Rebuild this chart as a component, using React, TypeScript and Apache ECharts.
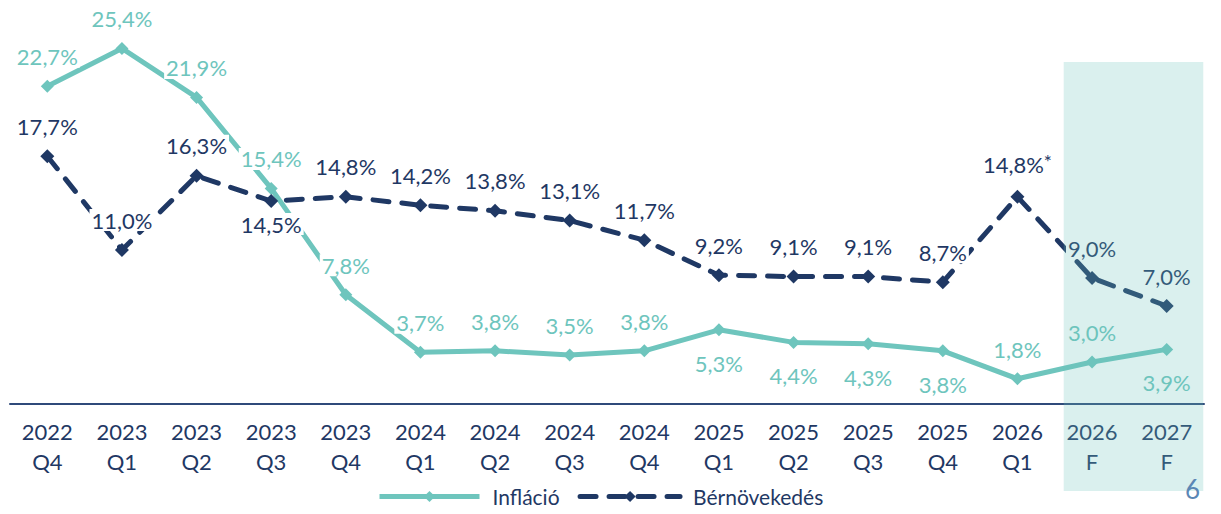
import React, { useEffect, useRef } from "react";
import * as echarts from "echarts";

const categories = [
  "2022\nQ4", "2023\nQ1", "2023\nQ2", "2023\nQ3", "2023\nQ4",
  "2024\nQ1", "2024\nQ2", "2024\nQ3", "2024\nQ4",
  "2025\nQ1", "2025\nQ2", "2025\nQ3", "2025\nQ4",
  "2026\nQ1", "2026\nF", "2027\nF",
];
const inflation = [22.7, 25.4, 21.9, 15.4, 7.8, 3.7, 3.8, 3.5, 3.8, 5.3, 4.4, 4.3, 3.8, 1.8, 3.0, 3.9];
const wageGrowth = [17.7, 11.0, 16.3, 14.5, 14.8, 14.2, 13.8, 13.1, 11.7, 9.2, 9.1, 9.1, 8.7, 14.8, 9.0, 7.0];
const inflationLabelBelow = [9, 10, 11, 12, 15];
const wageLabelBelow = [3];
const wageFootnote = [13];
const forecastStart = "2026\nF";
const forecastEnd = "2027\nF";

const TEAL = "#6EC5BD";
const NAVY = "#1F3864";
const FONT = "Lato, 'Open Sans', sans-serif";
const FS = 22;

const fmt = (v: number) => v.toFixed(1).replace(".", ",") + "%";

export default function App() {
  const ref = useRef<HTMLDivElement>(null);
  useEffect(() => {
    if (!ref.current) return;
    const chart = echarts.init(ref.current, undefined, { renderer: "svg" });

    const inflData = inflation.map((v, i) => {
      const below = inflationLabelBelow.includes(i);
      return {
        value: v,
        label: { position: below ? "bottom" : "top", distance: below ? 16 : 12 },
      };
    });
    const wageData = wageGrowth.map((v, i) => {
      const below = wageLabelBelow.includes(i);
      const foot = wageFootnote.includes(i);
      return {
        value: v,
        label: {
          position: below ? "bottom" : "top",
          distance: below ? 5 : 12,
          formatter: foot ? `{v|${fmt(v)}}{s|*}` : fmt(v),
        },
      };
    });

    chart.setOption({
      animation: false,
      textStyle: { fontFamily: FONT },
      grid: { left: 10, right: 17, top: 12, bottom: 110, containLabel: false },
      xAxis: {
        type: "category",
        data: categories,
        boundaryGap: true,
        axisLine: { show: true, lineStyle: { color: "#2F4A7A", width: 2 } },
        axisTick: { show: false },
        axisLabel: {
          interval: 0,
          color: NAVY,
          fontSize: FS,
          lineHeight: 30,
          margin: 12,
          fontFamily: FONT,
        },
      },
      yAxis: {
        type: "value",
        min: 0,
        max: 28,
        show: false,
        splitLine: { show: false },
      },
      legend: {
        left: 372,
        bottom: 2,
        itemWidth: 100,
        itemHeight: 14,
        itemGap: 18,
        lineStyle: { width: 5 },
        textStyle: { color: NAVY, fontSize: 21, fontFamily: FONT, padding: [0, 0, 0, 8] },
        data: ["Infláció", "Bérnövekedés"],
      },
      series: [
        {
          name: "Infláció",
          type: "line",
          data: inflData,
          symbol: "diamond",
          symbolSize: 13,
          itemStyle: { color: TEAL },
          lineStyle: { color: TEAL, width: 5 },
          z: 2,
          label: {
            show: true,
            color: TEAL,
            fontSize: FS,
            fontFamily: FONT,
            backgroundColor: "#ffffff",
            padding: [0, 2],
            formatter: (p: any) => fmt(p.value),
          },
        },
        {
          name: "Bérnövekedés",
          type: "line",
          data: wageData,
          symbol: "diamond",
          symbolSize: 14,
          itemStyle: { color: NAVY },
          lineStyle: { color: NAVY, width: 5, type: [16, 13], cap: "round" },
          z: 3,
          label: {
            show: true,
            color: NAVY,
            fontSize: FS,
            fontFamily: FONT,
            backgroundColor: "#ffffff",
            padding: [0, 2],
            formatter: (p: any) => fmt(p.value),
            rich: {
              v: { color: NAVY, fontSize: FS, fontFamily: FONT, lineHeight: 26 },
              s: { color: NAVY, fontSize: 19, fontFamily: FONT, verticalAlign: "top", lineHeight: 26 },
            },
          },
        },
      ],
    });

    const xs = chart.convertToPixel({ xAxisIndex: 0 }, forecastStart) as number;
    const xe = chart.convertToPixel({ xAxisIndex: 0 }, forecastEnd) as number;
    const band = xe - xs;
    const left = xs - band * 0.38;
    const right = xe + band * 0.49;
    chart.setOption({
      graphic: [
        {
          type: "rect",
          z: 100,
          silent: true,
          shape: { x: left, y: 62, width: right - left, height: 429 },
          style: { fill: "rgba(109,197,189,0.25)" },
        },
        {
          type: "text",
          z: 101,
          x: 1185,
          y: 476,
          style: { text: "6", fill: "#5B87B5", fontSize: 26, fontFamily: FONT },
        },
      ],
    });

    return () => chart.dispose();
  }, []);
  return (
    <div
      ref={ref}
      style={{ position: "fixed", left: 0, top: 0, width: 1221, height: 514, background: "#fff" }}
    />
  );
}
